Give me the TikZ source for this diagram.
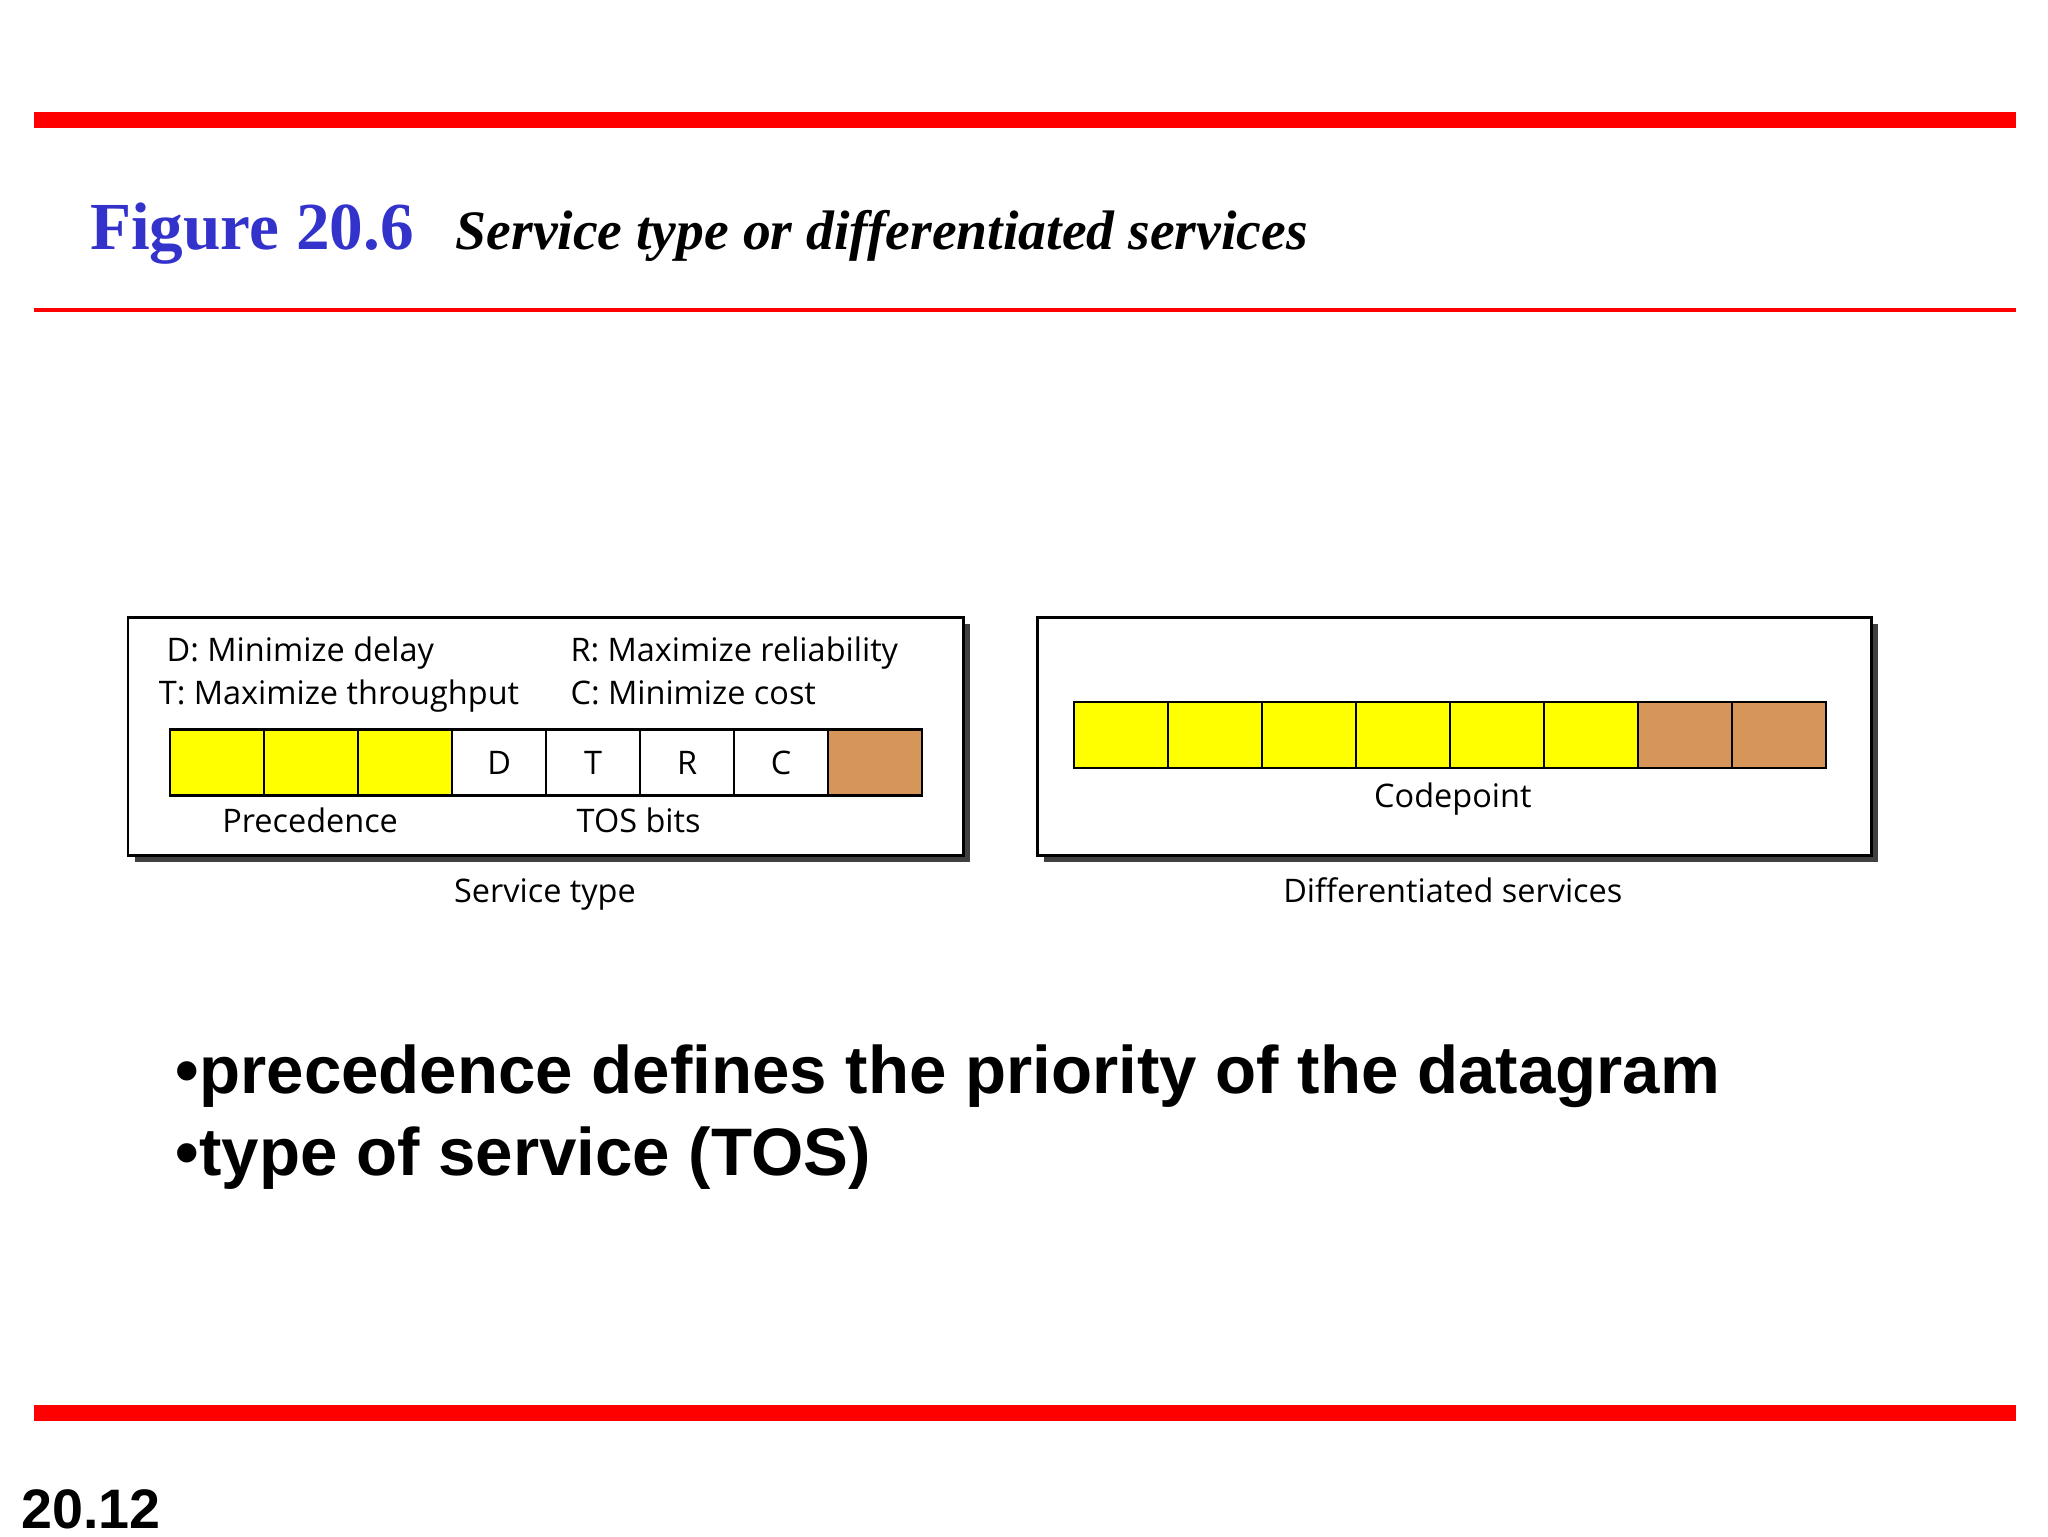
\documentclass[tikz,border=0pt]{standalone}
\usepackage{fontspec}
\setmainfont{Liberation Serif}
\newfontfamily\lab{Open Sans}
\newfontfamily\arl{Liberation Sans}
\definecolor{rd}{RGB}{255,0,0}
\definecolor{bl}{RGB}{51,51,204}
\definecolor{yl}{RGB}{255,255,0}
\definecolor{br}{RGB}{214,150,90}
\tikzset{
 cell/.style={draw,line width=1pt,minimum width=71.25*0.02cm,minimum height=50*0.02cm,inner sep=0pt,anchor=north west,font=\lab\fontsize{14}{16}\selectfont},
 frame/.style={draw,line width=1.2pt,fill=white},
 lbl/.style={font=\lab\fontsize{14}{16}\selectfont,anchor=base west,inner sep=0pt},
 lblc/.style={font=\lab\fontsize{14}{16}\selectfont,anchor=base,inner sep=0pt}
}
\begin{document}
\begin{tikzpicture}[x=0.02cm,y=-0.02cm]
\useasboundingbox (0,0) rectangle (1552,1164);
\draw[rd,line width=6.8pt] (26,91) -- (1528,91);
\draw[rd,line width=1.6pt] (26,235) -- (1528,235);
\draw[rd,line width=6.8pt] (26,1071) -- (1528,1071);
\node[anchor=base west,inner sep=0pt,text=bl,font=\bfseries\fontsize{29}{32}\selectfont] (t1) at (68,189) {Figure 20.6};
\node[anchor=base west,inner sep=0pt,font=\bfseries\itshape\fontsize{24}{27}\selectfont] (t2) at (345,189) {Service type or differentiated services};
\fill[black!75] (102,473) rectangle (735,653);
\draw[frame] (97,468) rectangle (730,648);
\fill[black!75] (791,473) rectangle (1423,653);
\draw[frame] (786,468) rectangle (1418,648);
\foreach \i/\c/\t in {0/yl/,1/yl/,2/yl/,3/white/D,4/white/T,5/white/R,6/white/C,7/br/}
  \node[cell,fill=\c] (l\i) at (128+71.25*\i,552) {\t};
\foreach \i/\c in {0/yl,1/yl,2/yl,3/yl,4/yl,5/yl,6/br,7/br}
  \node[cell,fill=\c] (r\i) at (813+71.25*\i,531) {};
\node[lbl] (a1) at (126,501) {D: Minimize delay};
\node[lbl] (a2) at (120,534) {T: Maximize throughput};
\node[lbl] (a3) at (432,501) {R: Maximize reliability};
\node[lbl] (a4) at (432,534) {C: Minimize cost};
\node[lblc] (p) at (235,631) {Precedence};
\node[lblc] (tb) at (484,631) {TOS bits};
\node[lblc] (cp) at (1101,612) {Codepoint};
\node[lblc] (st) at (413,684) {Service type};
\node[lblc] (ds) at (1101,684) {Differentiated services};
\node[anchor=base west,inner sep=0pt,font=\arl\bfseries\fontsize{29}{33}\selectfont] (b1) at (133,829) {•precedence defines the priority of the datagram};
\node[anchor=base west,inner sep=0pt,font=\arl\bfseries\fontsize{29}{33}\selectfont] (b2) at (133,891) {•type of service (TOS)};
\node[anchor=base west,inner sep=0pt,font=\arl\bfseries\fontsize{24}{27}\selectfont] (pg) at (16,1158) {20.12};
\end{tikzpicture}
\end{document}
